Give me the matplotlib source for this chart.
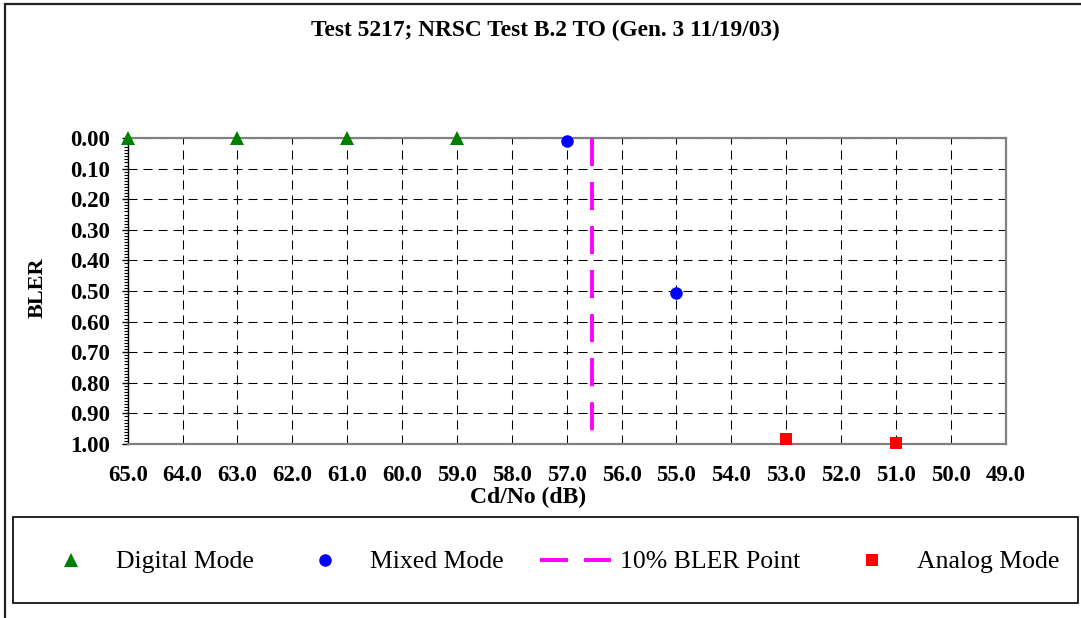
import matplotlib
matplotlib.use("Agg")
import matplotlib.pyplot as plt
from matplotlib.patches import Rectangle
import numpy as np

plt.rcParams['font.family'] = ['Liberation Serif', 'DejaVu Serif']
plt.rcParams['lines.scale_dashes'] = False

# ---- data ----
title = "Test 5217; NRSC Test B.2 TO (Gen. 3 11/19/03)"
x_label = "Cd/No (dB)"
y_label = "BLER"
digital_x = [65.0, 63.0, 61.0, 59.0]
digital_y = [0.0, 0.0, 0.0, 0.0]
mixed_x = [57.0, 55.0]
mixed_y = [0.01, 0.505]
analog_x = [53.0, 51.0]
analog_y = [0.985, 0.997]
bler_point_x = [56.53, 56.53]
bler_point_y = [0.0, 1.0]
x_ticks = [65.0, 64.0, 63.0, 62.0, 61.0, 60.0, 59.0, 58.0, 57.0, 56.0,
           55.0, 54.0, 53.0, 52.0, 51.0, 50.0, 49.0]
y_ticks = [0.0, 0.1, 0.2, 0.3, 0.4, 0.5, 0.6, 0.7, 0.8, 0.9, 1.0]

W, H = 1081, 618
fig = plt.figure(figsize=(W / 100, H / 100), dpi=100)

# outer frame
fig.patches.append(Rectangle((5 / W, -0.02), 1.1, (H - 4) / H + 0.02,
                             transform=fig.transFigure, fill=False,
                             edgecolor='#222222', linewidth=1.6))

left, right, top, bottom = 127.7, 1005.7, 138, 444
ax = fig.add_axes([left / W, 1 - bottom / H, (right - left) / W, (bottom - top) / H])

ax.set_xlim(65, 49)
ax.set_ylim(1.0, 0.0)

grid_ls = (0, (6.5, 4.3))
for xv in x_ticks:
    ax.axvline(xv, color='black', linewidth=0.75, linestyle=grid_ls, zorder=1)
for yv in y_ticks:
    ax.axhline(yv, color='black', linewidth=0.75, linestyle=grid_ls, zorder=1)

ax.plot(bler_point_x, bler_point_y, color='#FF00FF', linewidth=2.8,
        linestyle=(0, (20.2, 11.5)), zorder=3, label='10% BLER Point')
ax.plot(digital_x, digital_y, linestyle='none', marker='^', markersize=9.8,
        color='#008000', markeredgewidth=0, clip_on=False, zorder=4, label='Digital Mode')
ax.plot(mixed_x, mixed_y, linestyle='none', marker='o', markersize=9.0,
        color='#0000FF', markeredgewidth=0, clip_on=False, zorder=4, label='Mixed Mode')
ax.plot(analog_x, analog_y, linestyle='none', marker='s', markersize=9.0,
        color='#FF0000', markeredgewidth=0, clip_on=False, zorder=4, label='Analog Mode')

for s in ['top', 'right', 'bottom']:
    ax.spines[s].set_color('#808080')
    ax.spines[s].set_linewidth(1.6)
ax.spines['left'].set_color('black')
ax.spines['left'].set_linewidth(1.0)

ax.set_xticks(x_ticks)
ax.set_xticklabels([f"{v:.1f}" for v in x_ticks], fontsize=16.5, fontweight='bold')
ax.set_yticks(y_ticks)
ax.set_yticklabels([f"{v:.2f}" for v in y_ticks], fontsize=16.5, fontweight='bold')
ax.set_yticks(np.round(np.arange(0, 1.001, 0.01), 2), minor=True)
ax.tick_params(axis='x', length=0, pad=15)
ax.tick_params(axis='y', which='major', direction='out', length=4, width=1, pad=9, colors='black')
ax.tick_params(axis='y', which='minor', direction='out', length=3, width=0.8, colors='black')

fig.text(545 / W, 1 - 30 / H, title, ha='center', va='center', fontsize=16.8, fontweight='bold')
fig.text(528 / W, 1 - 497 / H, x_label, ha='center', va='center', fontsize=17, fontweight='bold')
fig.text(38 / W, 1 - 288 / H, y_label, ha='center', va='center', fontsize=16,
         fontweight='bold', rotation=90)

# legend box
fig.patches.append(Rectangle((12.7 / W, 1 - 603 / H), (1078 - 12.7) / W, (603 - 517) / H,
                             transform=fig.transFigure, fill=False,
                             edgecolor='black', linewidth=1.2))
handles, labels = ax.get_legend_handles_labels()
order = ['Digital Mode', 'Mixed Mode', '10% BLER Point', 'Analog Mode']
hl = {l: h for h, l in zip(handles, labels)}
fs_px = 18.5 * 100 / 72
leg = fig.legend([hl[o] for o in order], order, loc='center left',
                 bbox_to_anchor=(35.5 / W, 1 - 562 / H), ncol=4, frameon=False,
                 fontsize=18.5, borderpad=0, borderaxespad=0,
                 handlelength=71 / fs_px, handletextpad=9.5 / fs_px,
                 columnspacing=36 / fs_px, numpoints=1)

fig.savefig("out.png", dpi=100)
